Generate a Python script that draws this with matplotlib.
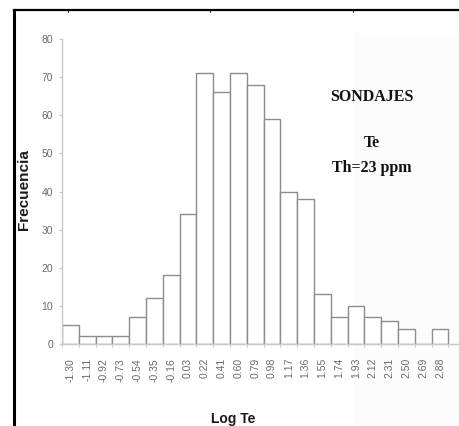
import matplotlib
matplotlib.use("Agg")
import matplotlib.pyplot as plt
from matplotlib.lines import Line2D
from matplotlib.patches import Rectangle
import numpy as np

categories = ["-1.30", "-1.11", "-0.92", "-0.73", "-0.54", "-0.35", "-0.16", "0.03",
              "0.22", "0.41", "0.60", "0.79", "0.98", "1.17", "1.36", "1.55",
              "1.74", "1.93", "2.12", "2.31", "2.50", "2.69", "2.88"]
frequencies = [5, 2, 2, 2, 7, 12, 18, 34, 71, 66, 71, 68, 59, 40, 38, 13,
               7, 10, 7, 6, 4, 0, 4]
y_ticks = [0, 10, 20, 30, 40, 50, 60, 70, 80]

W, H = 459, 426
fig = plt.figure(figsize=(W / 100, H / 100), dpi=100)

# very faint shaded panel on the right
fig.add_artist(Rectangle((353 / W, 0), (W - 353) / W, (H - 33) / H,
                         transform=fig.transFigure, facecolor="#fcfcfc",
                         edgecolor="none", zorder=0))

ax = fig.add_axes([62 / W, (H - 344) / H, (458 - 62) / W, (344 - 39) / H])
ax.set_facecolor("none")

x = np.arange(len(categories))
ax.bar(x, frequencies, width=1.0, color="white", edgecolor="#8c8c8c",
       linewidth=1.0, zorder=2)

ax.set_xlim(-0.5, -0.5 + (458 - 62) / 16.8)
ax.set_ylim(0, 80)

for s in ["top", "right"]:
    ax.spines[s].set_visible(False)
for s in ["left", "bottom"]:
    ax.spines[s].set_color("#c8c8c8")
    ax.spines[s].set_linewidth(1.0)

ax.set_yticks(y_ticks)
ax.set_yticklabels([str(v) for v in y_ticks], color="#6a6a6a", fontsize=7.5,
                   family=["Liberation Sans"])
ax.tick_params(axis="y", direction="out", length=2.5, color="#c8c8c8", pad=4)

# major x ticks on category boundaries, labels at centers
ax.set_xticks(np.arange(len(categories) + 1) - 0.5)
ax.set_xticklabels([])
ax.tick_params(axis="x", which="major", direction="inout", length=5,
               color="#c8c8c8")
ax.set_xticks(x, minor=True)
ax.set_xticklabels(categories, minor=True, rotation=90, fontsize=7.5,
                   color="#6a6a6a", family=["Liberation Sans"])
ax.tick_params(axis="x", which="minor", length=0, pad=10)

fig.text(24 / W, 1 - 190 / H, "Frecuencia", rotation=90, ha="center",
         va="center", fontsize=11, fontweight="bold",
         family=["Liberation Sans"], color="#1a1a1a")
fig.text(233 / W, 1 - 419 / H, "Log Te", ha="center", va="center",
         fontsize=10, fontweight="bold",
         family=["Liberation Sans"], color="#1a1a1a")

serif = ["Liberation Serif"]
fig.text(372 / W, 1 - 97 / H, "SONDAJES", ha="center", va="center",
         fontsize=11.5, fontweight="bold", family=serif, color="#111111")
fig.text(372 / W, 1 - 143 / H, "Te", ha="center", va="center",
         fontsize=11.5, fontweight="bold", family=serif, color="#111111")
fig.text(372 / W, 1 - 168 / H, "Th=23 ppm", ha="center", va="center",
         fontsize=11.5, fontweight="bold", family=serif, color="#111111")

# black page frame
fig.add_artist(Line2D([14 / W, 1], [1 - 9.5 / H, 1 - 9.5 / H],
                      transform=fig.transFigure, color="black", linewidth=1.6))
fig.add_artist(Line2D([14 / W, 14 / W], [0, 1 - 9.5 / H],
                      transform=fig.transFigure, color="black", linewidth=2.2))
for xp in [68, 210, 353]:
    fig.add_artist(Line2D([xp / W, xp / W], [1 - 9.5 / H, 1 - 12 / H],
                          transform=fig.transFigure, color="black",
                          linewidth=0.6))

fig.savefig("out.png", dpi=100)
